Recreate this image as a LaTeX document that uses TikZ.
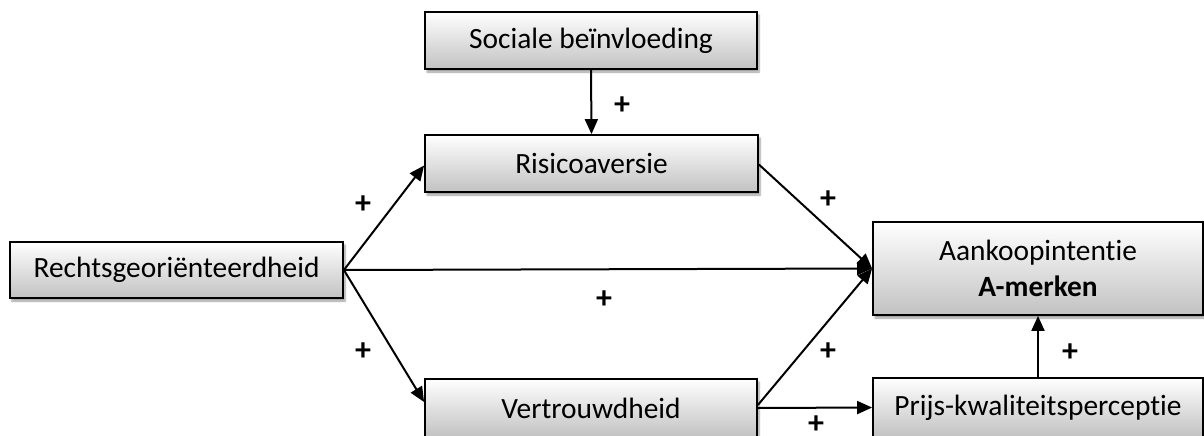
\documentclass[tikz,border=0pt]{standalone}
\usepackage{fontspec}
\setmainfont{Carlito}[Ligatures={NoCommon,NoRare,NoContextual}]
\usetikzlibrary{arrows.meta,shadows.blur}
\begin{document}
\begin{tikzpicture}[x=1pt,y=-1pt,
  box/.style={draw=black, line width=1.8pt, top color=white, bottom color=black!24,
    blur shadow={shadow xshift=2pt, shadow yshift=-3pt, shadow blur steps=6, shadow opacity=40},
    font=\fontsize{29.4}{34}\selectfont, inner sep=0pt, align=center},
  conn/.style={line width=2pt, -{Triangle[length=15pt,width=13pt]}},
  plus/.style={font=\fontsize{32}{32}\selectfont\bfseries}]
\useasboundingbox (0,0) rectangle (1204,436);
\clip (0,0) rectangle (1204,436);
\node[box, minimum width=332pt, minimum height=57pt] (soc) at (591,40.5) {Sociale beïnvloeding};
\node[box, minimum width=333pt, minimum height=57pt] (ris) at (591.5,163.5) {Risicoaversie};
\node[box, minimum width=333pt, minimum height=56pt] (rec) at (176.5,270) {Rechtsgeoriënteerdheid};
\node[box, minimum width=330pt, minimum height=93pt] (aan) at (1038,268.5) {Aankoopintentie\\[2pt]\textbf{A-merken}};
\node[box, minimum width=332pt, minimum height=58pt] (ver) at (591,408) {Vertrouwdheid};
\node[box, minimum width=330pt, minimum height=59pt] (pri) at (1038,407.5) {Prijs-kwaliteitsperceptie};
\draw[conn] (soc.south) -- (ris.north);
\draw[conn] (rec.east) -- ([yshift=-2pt]ris.west);
\draw[conn] (rec.east) -- ([yshift=6pt]ver.west);
\draw[conn] (rec.east) -- (aan.west);
\draw[conn] ([yshift=-1pt]ris.east) -- (aan.west);
\draw[conn] ([yshift=3pt]ver.east) -- (aan.west);
\draw[conn] (ver.east) -- (pri.west);
\draw[conn] (pri.north) -- (aan.south);
\node[plus] (p1) at (622,106) {+};
\node[plus] (p2) at (363,205) {+};
\node[plus] (p3) at (363,352) {+};
\node[plus] (p4) at (604,300) {+};
\node[plus] (p5) at (828,200) {+};
\node[plus] (p6) at (828,352) {+};
\node[plus] (p7) at (816,425) {+};
\node[plus] (p8) at (1070,353) {+};
\end{tikzpicture}
\end{document}
